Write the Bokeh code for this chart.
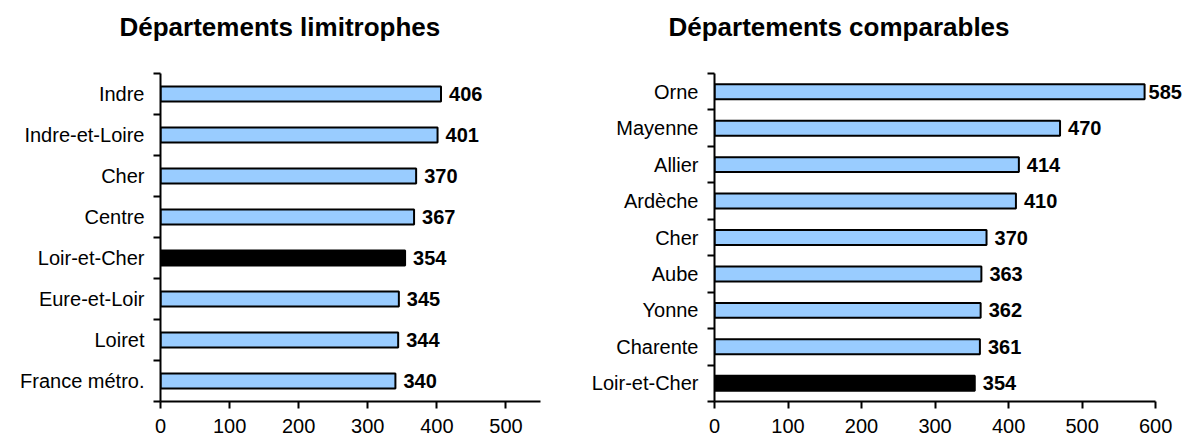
from bokeh.plotting import figure
from bokeh.layouts import row
from bokeh.models import ColumnDataSource, FixedTicker, Range1d, LinearAxis
from bokeh.core.properties import value
from bokeh.embed import file_html
from bokeh.resources import INLINE

# ---- data ----
left_title = "Départements limitrophes"
left_names = ["Indre", "Indre-et-Loire", "Cher", "Centre", "Loir-et-Cher",
              "Eure-et-Loir", "Loiret", "France métro."]
left_values = [406, 401, 370, 367, 354, 345, 344, 340]
left_ticks = [0, 100, 200, 300, 400, 500]
left_axis_end = 550

right_title = "Départements comparables"
right_names = ["Orne", "Mayenne", "Allier", "Ardèche", "Cher", "Aube",
               "Yonne", "Charente", "Loir-et-Cher"]
right_values = [585, 470, 414, 410, 370, 363, 362, 361, 354]
right_ticks = [0, 100, 200, 300, 400, 500, 600]
right_axis_end = 600

highlight = "Loir-et-Cher"

FONT = "Liberation Sans"
BLUE = "#99CCFF"
H = 439
TOP = 73
FRAME_H = 328


def make_panel(title, names, vals, ticks, axis_end, view_end, width, bl, br,
               toff, bar_h):
    n = len(names)
    pos = [n - i for i in range(n)]
    colors = ["black" if nm == highlight else BLUE for nm in names]
    offs = [4 if v > 0.95 * axis_end else 8 for v in vals]
    src = ColumnDataSource(dict(pos=pos, val=vals, name=names, color=colors,
                                lab=[str(v) for v in vals], off=offs))
    p = figure(width=width, height=H, output_backend="svg", toolbar_location=None,
               title=title, title_location="above",
               x_range=Range1d(0, view_end), y_range=Range1d(0.5, n + 0.5),
               min_border_left=bl, min_border_right=br,
               min_border_top=TOP, min_border_bottom=H - TOP - FRAME_H)
    p.title.align = "left"
    p.title.offset = toff
    p.title.text_font = FONT
    p.title.text_font_size = "26px"
    p.title.text_font_style = "bold"
    p.title.text_color = "black"
    p.title.vertical_align = "top"
    p.title.standoff = 10

    # real axes (grab before adding the spacer)
    xa = p.below[0]
    ya = p.left[0]

    # invisible spacer axis between title and frame (nothing drawn)
    spacer = LinearAxis(ticker=FixedTicker(ticks=[0], minor_ticks=[]),
                        axis_line_color=None, major_tick_line_color=None,
                        minor_tick_line_color=None, major_tick_out=25,
                        major_tick_in=0, minor_tick_out=0, minor_tick_in=0,
                        major_label_standoff=0, major_label_text_color=None,
                        major_label_text_font_size="1px")
    p.add_layout(spacer, "above")

    p.hbar(y="pos", right="val", left=0, height=bar_h, source=src,
           fill_color="color", line_color="black", line_width=2)
    p.text(x="val", y="pos", text="lab", x_offset="off", source=src,
           text_baseline="middle", text_align="left",
           text_font=value(FONT), text_font_style="bold",
           text_font_size="20px", text_color="black")

    p.xgrid.visible = False
    p.ygrid.visible = False
    p.outline_line_color = None
    p.background_fill_color = "white"
    p.border_fill_color = "white"

    xa.ticker = FixedTicker(ticks=ticks, minor_ticks=[])
    xa.bounds = (0, axis_end)
    xa.axis_line_width = 2
    xa.axis_line_color = "black"
    xa.major_tick_line_width = 2
    xa.major_tick_line_color = "black"
    xa.major_tick_out = 7
    xa.major_tick_in = 0
    xa.minor_tick_line_color = None
    xa.major_label_standoff = 10
    xa.major_label_text_font = FONT
    xa.major_label_text_font_size = "20px"
    xa.major_label_text_color = "black"

    ya.ticker = FixedTicker(ticks=pos, minor_ticks=[k + 0.5 for k in range(n + 1)])
    ya.major_label_overrides = {pp: nm for pp, nm in zip(pos, names)}
    ya.axis_line_width = 2
    ya.axis_line_color = "black"
    ya.major_tick_line_color = None
    ya.major_tick_out = 0
    ya.major_tick_in = 0
    ya.minor_tick_line_color = "black"
    ya.minor_tick_line_width = 2
    ya.minor_tick_out = 7
    ya.minor_tick_in = 0
    ya.major_label_standoff = 9
    ya.major_label_text_font = FONT
    ya.major_label_text_font_size = "20px"
    ya.major_label_text_color = "black"
    return p


# left: frame 160..540 (0..550); right: frame 714..1186, axis 0..600 ends at 1155
p1 = make_panel(left_title, left_names, left_values, left_ticks,
                left_axis_end, 550, 580, 160, 40, -41, 0.365)
p2 = make_panel(right_title, right_names, right_values, right_ticks,
                right_axis_end, 642, 606, 134, 0, -46, 0.41)

layout = row(p1, p2)
open("out.html", "w").write(file_html(layout, INLINE))
